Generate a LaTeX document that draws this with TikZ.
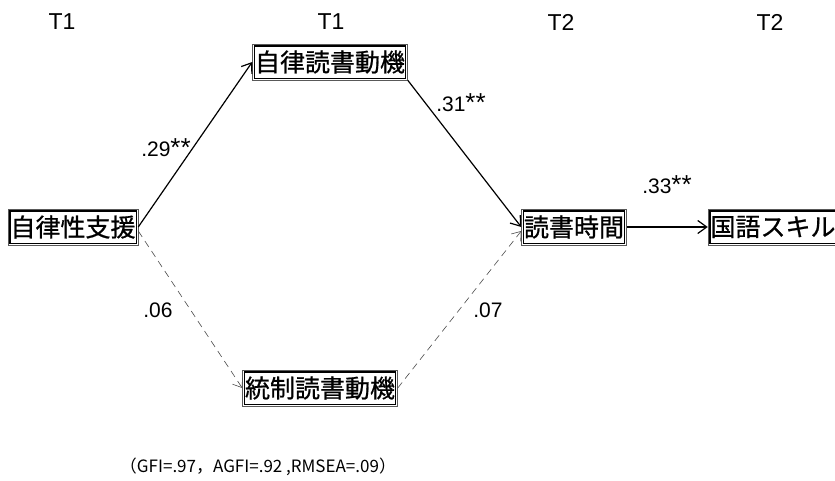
\documentclass[tikz,border=0pt]{standalone}
\usepackage{fontspec}
\setmainfont{Liberation Sans}
\newfontfamily\jp[FakeBold=0.8]{Noto Sans CJK JP}
\newfontfamily\jpn{Noto Sans CJK JP}
\usetikzlibrary{arrows.meta}
\newcommand{\sig}{{\fontsize{26}{26}\selectfont **}}
\begin{document}
\begin{tikzpicture}[x=1pt,y=-1pt,
  var/.style={draw=black!65, line width=0.5pt,
    font=\jp\fontsize{25}{25}\selectfont, inner xsep=2.5pt, inner ysep=3pt, minimum height=36pt},
  inner/.style={draw=black, line width=1.1pt},
  lab/.style={font=\fontsize{21}{21}\selectfont},
  tlab/.style={font=\fontsize{23}{23}\selectfont},
  path1/.style={-{Straight Barb[length=9pt,width=13pt,line width=1.2pt]}, line width=1.2pt},
  path2/.style={-{Straight Barb[length=8pt,width=12pt]}, dash pattern=on 7pt off 5pt, line width=0.6pt, draw=black!70}]
\useasboundingbox (0,0) rectangle (835,480);
\fill[white] (0,0) rectangle (835,480);
\node[tlab] (t1) at (62,22) {T1};
\node[tlab] (t2) at (331,22) {T1};
\node[tlab] (t3) at (561,22) {T2};
\node[tlab] (t4) at (770,22) {T2};
\node[var] (a) at (73,227) {自律性支援};
\node[var] (b) at (330,62) {自律読書動機};
\node[var] (c) at (320,388) {統制読書動機};
\node[var] (d) at (574,227) {読書時間};
\node[var] (e) at (773,227) {国語スキル};
\foreach \n in {a,b,c,d,e}{
  \draw[inner] ([shift={(2.2pt,-2.2pt)}]\n.north west) rectangle ([shift={(-2.2pt,2.2pt)}]\n.south east);
}
\draw[path1] (a.east) -- (b.west);
\draw[path1] (b.south east) -- (d.west);
\draw[path1] (d.east) -- (e.west);
\draw[path2] ([yshift=-4pt]a.east) -- (c.west);
\draw[path2] (c.east) -- ([yshift=-4pt]d.west);
\node[lab] (l1) at (166,148) {.29\sig};
\node[lab] (l2) at (461,103) {.31\sig};
\node[lab] (l3) at (667,185) {.33\sig};
\node[lab] (l4) at (158,310) {.06};
\node[lab] (l5) at (488,310) {.07};
\node[font=\jpn\fontsize{17}{17}\selectfont] (fit) at (258,467) {（GFI=.97，AGFI=.92 ,RMSEA=.09）};
\end{tikzpicture}
\end{document}
